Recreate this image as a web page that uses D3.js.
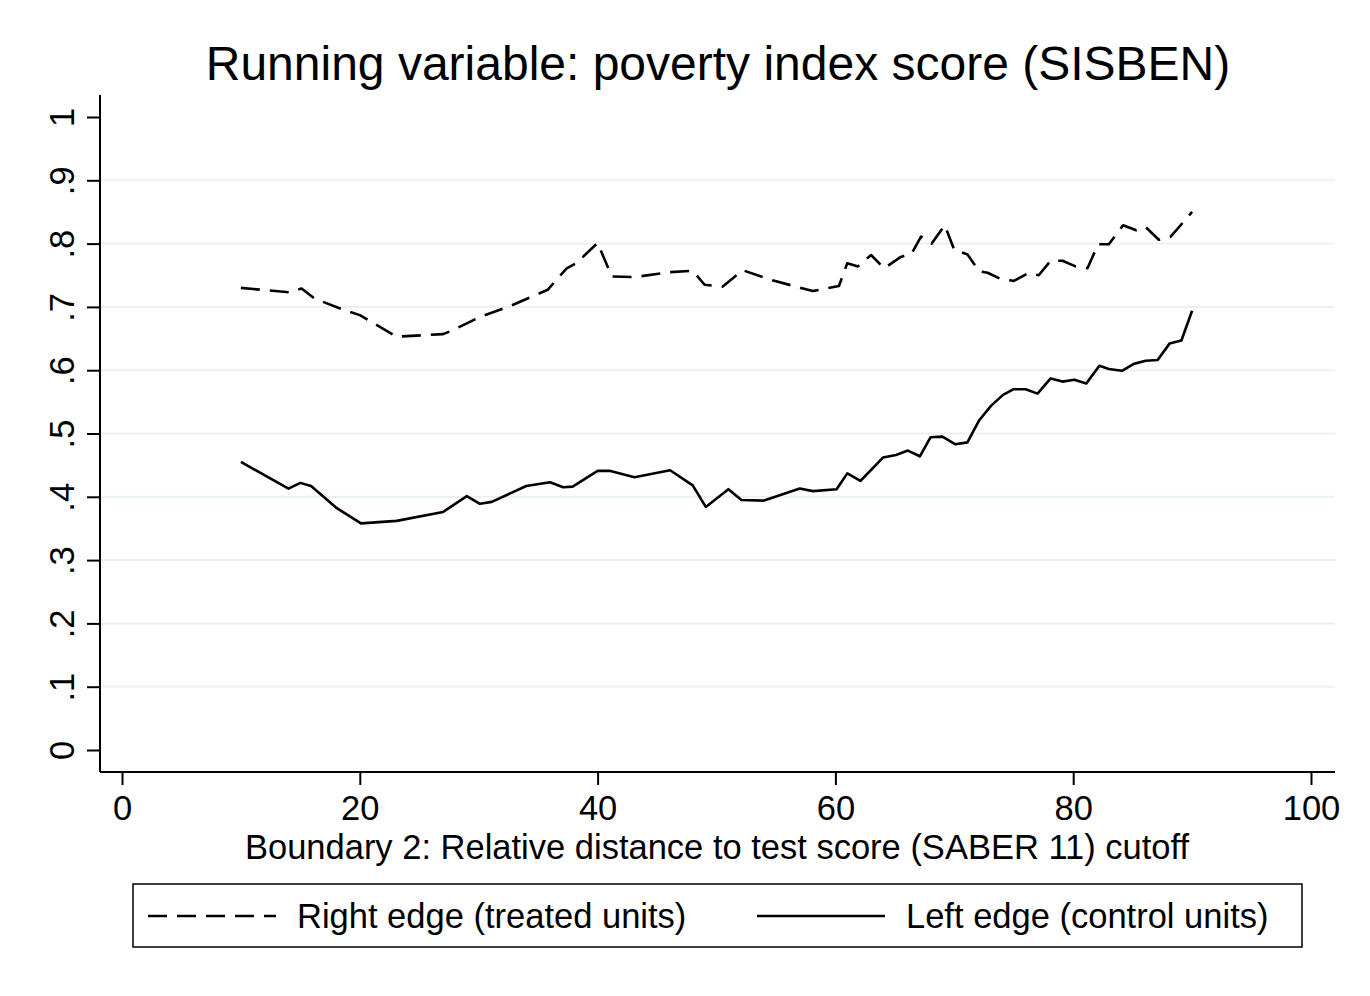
<!DOCTYPE html>
<html><head><meta charset="utf-8">
<script src="https://cdn.jsdelivr.net/npm/d3@7"></script>
<style>body{margin:0;background:#fff}svg{display:block}text{font-family:"Liberation Sans",Arial,Helvetica,sans-serif;fill:#000}</style>
</head><body><svg id="c" width="1370" height="996"></svg>
<script>
const title = "Running variable: poverty index score (SISBEN)";
const xTitle = "Boundary 2: Relative distance to test score (SABER 11) cutoff";
const xTicks = [0, 20, 40, 60, 80, 100];
const yTicks = [0, .1, .2, .3, .4, .5, .6, .7, .8, .9, 1];
const yTickLabels = ["0", ".1", ".2", ".3", ".4", ".5", ".6", ".7", ".8", ".9", "1"];
const legendLabels = ["Right edge (treated units)", "Left edge (control units)"];

const treatedX = [10, 14.1, 15.1, 16.2, 18.7, 20, 23.1, 27, 27.8, 30.1, 32.6, 35.8, 37.4, 38.2, 40, 41.2, 43.1, 46.1, 48, 49, 50.5, 52.2, 54.7, 58.1, 60.3, 61, 61.9, 63, 64.1, 65.5, 66.4, 67.2, 68.1, 69.2, 70, 71.1, 72.1, 72.8, 73.8, 75, 76.2, 77.1, 78.1, 79.1, 80.2, 81.2, 82.1, 83, 84.2, 85.3, 86.1, 87.2, 88.2, 90];
const treatedY = [.730, .723, .729, .713, .695, .687, .653, .657, .663, .684, .701, .727, .761, .769, .801, .748, .747, .755, .757, .735, .732, .758, .742, .725, .733, .769, .764, .782, .761, .779, .784, .811, .800, .829, .790, .783, .756, .754, .745, .741, .753, .750, .773, .773, .764, .761, .799, .799, .829, .821, .826, .806, .811, .850];

const controlX = [10, 14, 15, 15.9, 18, 20.1, 23.1, 27, 29, 30.1, 31.1, 34, 36, 37.1, 37.9, 40, 41, 43.1, 46.1, 48, 49.1, 51, 52.1, 54, 57, 58.1, 60.1, 61, 62.1, 64, 65.1, 66.1, 67.1, 68, 69, 70.1, 71.1, 72.1, 73.1, 74.1, 75, 76, 77, 78.1, 79.1, 80.1, 81.1, 82.2, 83, 84.1, 85.1, 86.1, 87.1, 88.1, 89.1, 90];
const controlY = [.455, .413, .422, .417, .383, .358, .362, .376, .401, .389, .392, .417, .423, .415, .416, .441, .441, .431, .442, .418, .384, .412, .395, .394, .413, .409, .412, .437, .425, .462, .466, .473, .464, .494, .495, .483, .486, .521, .544, .561, .570, .570, .563, .587, .582, .585, .579, .607, .602, .599, .610, .615, .616, .642, .647, .694];

const svg = d3.select("#c");
const x = d3.scaleLinear().domain([0, 100]).range([122, 1311]);
const y = d3.scaleLinear().domain([0, 1]).range([750, 117]);
const plotL = 100, plotR = 1335, plotT = 95, plotB = 772;
const fs = 34.5;

// grid
svg.append("g").selectAll("line").data(yTicks.filter(v => v > 0 && v < 1)).join("line")
  .attr("x1", plotL).attr("x2", plotR).attr("y1", d => y(d)).attr("y2", d => y(d))
  .attr("stroke", "#eaf1f3").attr("stroke-width", 2);

// axes
const yAxis = d3.axisLeft(y).tickValues(yTicks).tickFormat((d, i) => yTickLabels[i]).tickSize(13).tickPadding(8);
const gy = svg.append("g").attr("transform", `translate(${plotL},0)`).call(yAxis);
gy.select(".domain").remove();
gy.append("line").attr("x1", 0).attr("x2", 0).attr("y1", plotT).attr("y2", plotB).attr("stroke", "#000").attr("stroke-width", 2);
gy.selectAll(".tick line").attr("stroke", "#000").attr("stroke-width", 2);
gy.selectAll(".tick text").attr("font-size", fs).attr("text-anchor", "middle")
  .attr("x", null).attr("dy", null)
  .attr("transform", "translate(-35,0) rotate(-90)").attr("dominant-baseline", "middle").style("font-family", '"Liberation Sans",Arial,sans-serif');

const xAxis = d3.axisBottom(x).tickValues(xTicks).tickSize(13).tickPadding(8);
const gx = svg.append("g").attr("transform", `translate(0,${plotB})`).call(xAxis);
gx.select(".domain").remove();
gx.append("line").attr("x1", plotL).attr("x2", plotR).attr("y1", 0).attr("y2", 0).attr("stroke", "#000").attr("stroke-width", 2);
gx.selectAll(".tick line").attr("stroke", "#000").attr("stroke-width", 2);
gx.selectAll(".tick text").attr("font-size", fs).attr("dy", null).attr("y", 48).style("font-family", '"Liberation Sans",Arial,sans-serif');

// lines
const line = d3.line().x(d => x(d[0])).y(d => y(d[1]));
const tData = treatedX.map((v, i) => [v, treatedY[i]]);
const cData = controlX.map((v, i) => [v, controlY[i]]);
svg.append("path").datum(tData).attr("d", line).attr("fill", "none").attr("stroke", "#000")
  .attr("stroke-width", 2.6).attr("stroke-dasharray", "19,10").attr("stroke-linejoin", "round");
svg.append("path").datum(cData).attr("d", line).attr("fill", "none").attr("stroke", "#000")
  .attr("stroke-width", 2.6).attr("stroke-linejoin", "round");

// titles
svg.append("text").attr("x", 718).attr("y", 80).attr("text-anchor", "middle").attr("font-size", 48).text(title);
svg.append("text").attr("x", 717).attr("y", 859).attr("text-anchor", "middle").attr("font-size", fs).text(xTitle);

// legend
const lg = svg.append("g");
lg.append("rect").attr("x", 133).attr("y", 884).attr("width", 1169).attr("height", 63).attr("fill", "none").attr("stroke", "#000").attr("stroke-width", 1.5);
lg.append("line").attr("x1", 148).attr("x2", 276).attr("y1", 916).attr("y2", 916).attr("stroke", "#000").attr("stroke-width", 2.6).attr("stroke-dasharray", "19,10");
lg.append("text").attr("x", 297).attr("y", 928).attr("font-size", fs).text(legendLabels[0]);
lg.append("line").attr("x1", 757).attr("x2", 885).attr("y1", 916).attr("y2", 916).attr("stroke", "#000").attr("stroke-width", 2.6);
lg.append("text").attr("x", 906).attr("y", 928).attr("font-size", fs).text(legendLabels[1]);
</script></body></html>
